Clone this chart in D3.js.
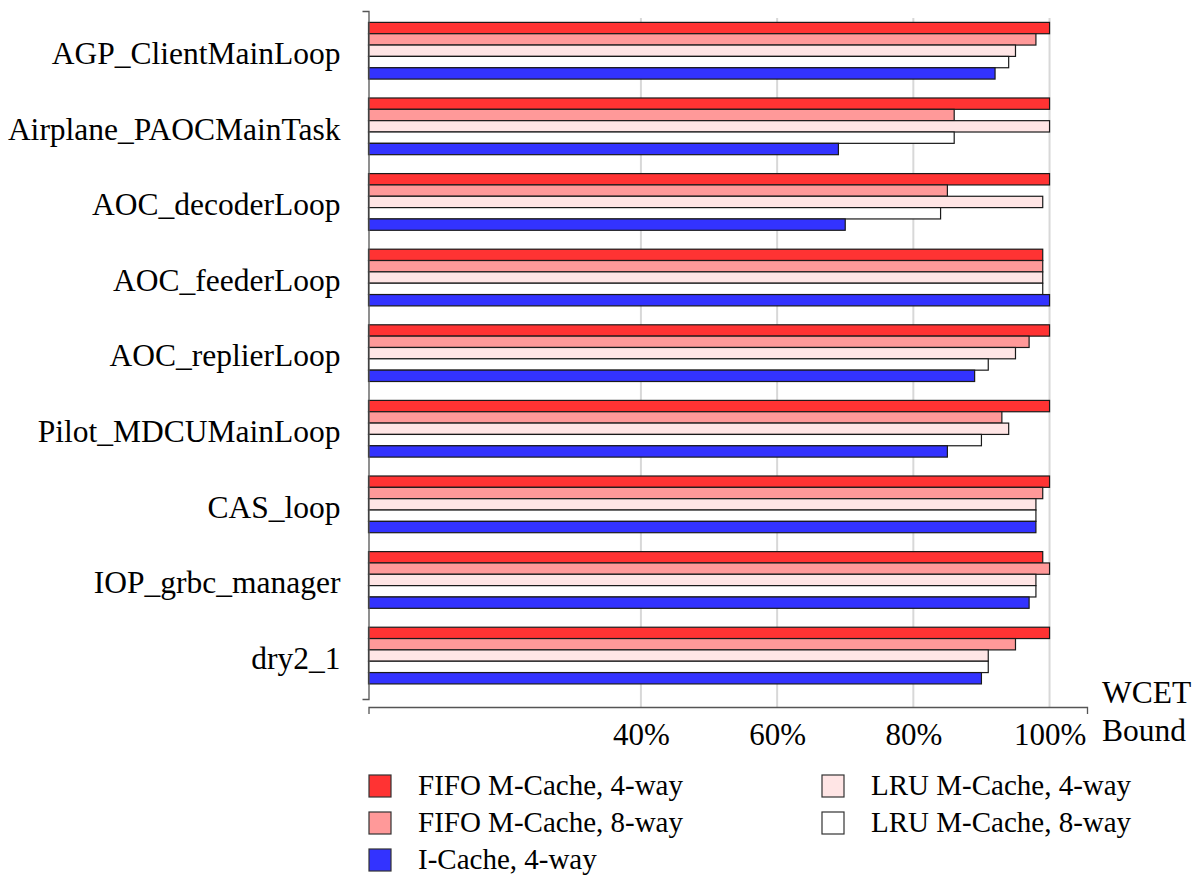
<!DOCTYPE html>
<html>
<head>
<meta charset="utf-8">
<script src="https://cdn.jsdelivr.net/npm/d3@7"></script>
<style>
  body { margin: 0; background: #fff; }
  svg { display: block; }
  text { font-family: "Liberation Serif", "Times New Roman", serif; fill: #000; }
</style>
</head>
<body>
<svg id="chart" width="1194" height="875"></svg>
<script>
const categories = ["AGP_ClientMainLoop", "Airplane_PAOCMainTask", "AOC_decoderLoop", "AOC_feederLoop",
  "AOC_replierLoop", "Pilot_MDCUMainLoop", "CAS_loop", "IOP_grbc_manager", "dry2_1"];
const seriesNames = ["FIFO M-Cache, 4-way", "FIFO M-Cache, 8-way", "LRU M-Cache, 4-way", "LRU M-Cache, 8-way", "I-Cache, 4-way"];
const seriesColors = ["#ff3333", "#ff9999", "#ffe5e5", "#ffffff", "#3333ff"];
const fifo4 = [100, 100, 100, 99, 100, 100, 100, 99, 100];
const fifo8 = [98, 86, 85, 99, 97, 93, 99, 100, 95];
const lru4  = [95, 100, 99, 99, 95, 94, 98, 98, 91];
const lru8  = [94, 86, 84, 99, 91, 90, 98, 98, 91];
const icache = [92, 69, 70, 100, 89, 85, 98, 97, 90];
const tickValues = [40, 60, 80, 100];
const tickLabels = ["40%", "60%", "80%", "100%"];
const axisTitle = ["WCET", "Bound"];

const seriesValues = [fifo4, fifo8, lru4, lru8, icache];
const serif = "'Liberation Serif', 'Times New Roman', serif";

const svg = d3.select("#chart");

const x = d3.scaleLinear().domain([0, 105.5]).range([368.5, 1087]);
const y = d3.scaleBand().domain(categories).range([11, 699])
  .paddingInner(0.25).paddingOuter(0.175).align(0.43);
const ySub = d3.scaleBand().domain(d3.range(seriesNames.length)).range([0, y.bandwidth()]);

// gridlines
svg.append("g").selectAll("line").data(tickValues).join("line")
  .attr("x1", d => x(d)).attr("x2", d => x(d))
  .attr("y1", 18).attr("y2", 707)
  .attr("stroke", "#d8d8d8").attr("stroke-width", 2);

// bars
const groups = svg.append("g").selectAll("g").data(categories).join("g")
  .attr("transform", c => `translate(0,${y(c)})`);
groups.selectAll("rect")
  .data((c, i) => seriesValues.map((vals, s) => ({ s, v: vals[i] })))
  .join("rect")
  .attr("x", x(0))
  .attr("y", d => ySub(d.s))
  .attr("width", d => x(d.v) - x(0))
  .attr("height", ySub.bandwidth())
  .attr("fill", d => seriesColors[d.s])
  .attr("stroke", "#1a1a1a")
  .attr("stroke-width", 1.2);

// y axis (bracket style)
const yAxis = d3.axisLeft(y).tickSize(0).tickPadding(28).tickSizeOuter(6);
const gy = svg.append("g").attr("transform", `translate(${x(0)},0)`).call(yAxis)
  .attr("font-family", null);
gy.select(".domain").attr("stroke", "#555").attr("stroke-width", 1.3);
gy.selectAll(".tick text")
  .style("font-family", serif)
  .style("font-size", "31.5px")
  .attr("dy", "0.42em");

// x axis
const xAxis = d3.axisBottom(x).tickValues(tickValues)
  .tickFormat((d, i) => tickLabels[i]).tickSize(0).tickPadding(29).tickSizeOuter(7);
const gx = svg.append("g").attr("transform", "translate(0,707)").call(xAxis)
  .attr("font-family", null);
gx.select(".domain").attr("stroke", "#555").attr("stroke-width", 1.3);
gx.selectAll(".tick text")
  .style("font-family", serif)
  .style("font-size", "31px")
  .attr("dy", "0.3em");

// axis title
svg.append("text").attr("x", 1102).attr("y", 703).style("font-family", serif).style("font-size", "31.5px").text(axisTitle[0]);
svg.append("text").attr("x", 1102).attr("y", 741).style("font-family", serif).style("font-size", "31.5px").text(axisTitle[1]);

// legend
const legendPos = [
  { x: 369, y: 775 }, { x: 369, y: 812 }, { x: 822, y: 775 }, { x: 822, y: 812 }, { x: 369, y: 849 }
];
const legend = svg.append("g").selectAll("g").data(seriesNames).join("g")
  .attr("transform", (d, i) => `translate(${legendPos[i].x},${legendPos[i].y})`);
legend.append("rect").attr("width", 22).attr("height", 22)
  .attr("fill", (d, i) => seriesColors[i]).attr("stroke", "#333").attr("stroke-width", 1.2);
legend.append("text").attr("x", 49).attr("y", 20).style("font-family", serif).style("font-size", "29px").text(d => d);
</script>
</body>
</html>
